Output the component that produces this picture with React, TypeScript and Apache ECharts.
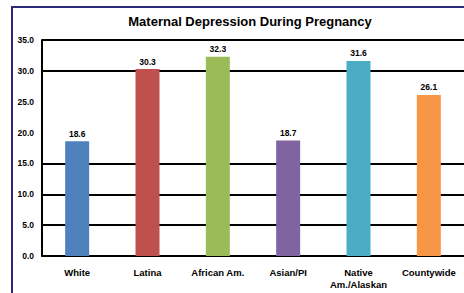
import React, { useEffect, useRef } from "react";
import * as echarts from "echarts";

const categories = ["White", "Latina", "African Am.", "Asian/PI", "Native\nAm./Alaskan", "Countywide"];
const values = [18.6, 30.3, 32.3, 18.7, 31.6, 26.1];
const barColors = ["#4f81bd", "#c0504d", "#9bbb59", "#8064a2", "#4bacc6", "#f79646"];
const title = "Maternal Depression During Pregnancy";
const gridColors = ["#000", "#000", "#000", "#000", "rgba(0,0,0,0)", "rgba(0,0,0,0)", "#000", "#000"];

const FONT = "'Liberation Sans', Arial, sans-serif";

export default function App() {
  const ref = useRef<HTMLDivElement>(null);
  useEffect(() => {
    if (!ref.current) return;
    const chart = echarts.init(ref.current, null, { renderer: "svg" });
    chart.setOption({
      animation: false,
      backgroundColor: "#fff",
      title: {
        text: title,
        left: 245,
        top: 10,
        textAlign: "center",
        textStyle: { fontFamily: FONT, fontSize: 13, fontWeight: "bold", color: "#000" },
      },
      graphic: [
        {
          type: "rect",
          shape: { x: 12, y: 7, width: 470, height: 300 },
          style: { fill: "none", stroke: "#2b2b7a", lineWidth: 2 },
          z: 10,
        },
      ],
      grid: { left: 42, top: 40, width: 429, height: 216 },
      xAxis: {
        type: "category",
        data: categories,
        axisLine: { show: true, lineStyle: { color: "#000", width: 2 } },
        axisTick: { show: false },
        axisLabel: {
          color: "#000",
          fontFamily: FONT,
          fontSize: 9.5,
          fontWeight: "bold",
          margin: 10,
          lineHeight: 12,
          interval: 0,
        },
      },
      yAxis: {
        type: "value",
        min: 0,
        max: 35,
        interval: 5,
        axisLine: { show: true, lineStyle: { color: "#000", width: 2 } },
        axisTick: { show: false },
        axisLabel: {
          color: "#000",
          fontFamily: FONT,
          fontSize: 8.5,
          fontWeight: "bold",
          margin: 8,
          formatter: (v: number) => v.toFixed(1),
        },
        splitLine: { show: true, lineStyle: { color: gridColors, width: 2 } },
      },
      series: [
        {
          type: "bar",
          barWidth: 24,
          data: values.map((v, i) => ({ value: v, itemStyle: { color: barColors[i] } })),
          label: {
            show: true,
            position: "top",
            distance: 3,
            color: "#000",
            fontFamily: FONT,
            fontSize: 8.5,
            fontWeight: "bold",
            formatter: (p: any) => Number(p.value).toFixed(1),
          },
        },
      ],
    });
    return () => chart.dispose();
  }, []);
  return (
    <div
      ref={ref}
      style={{ position: "absolute", left: 0, top: 0, width: 464, height: 293 }}
    />
  );
}
